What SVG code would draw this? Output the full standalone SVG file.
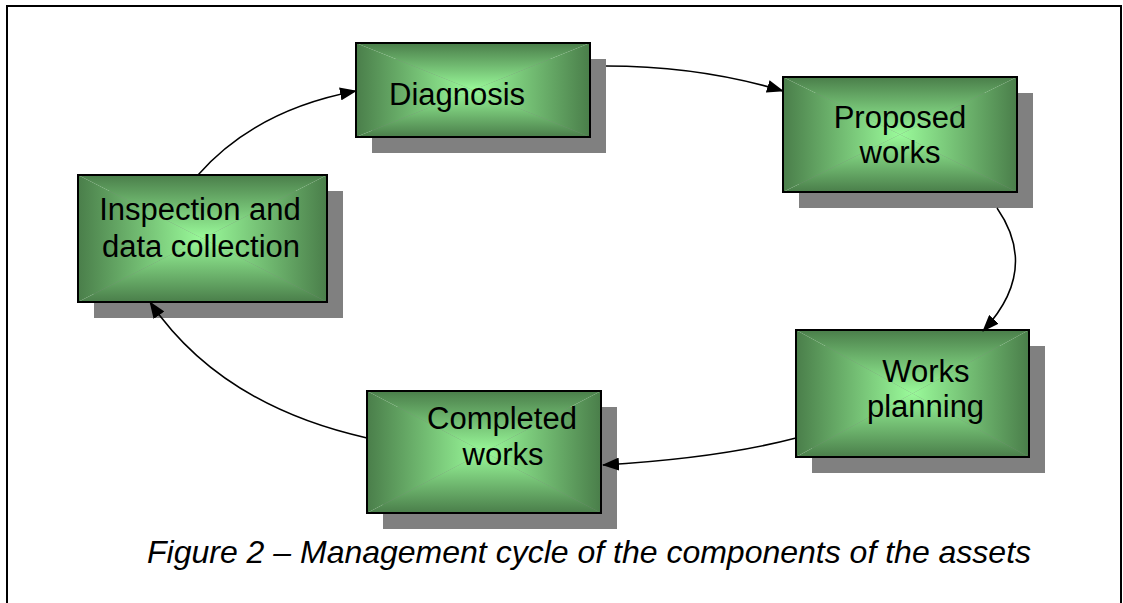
<svg xmlns="http://www.w3.org/2000/svg" width="1123" height="603" viewBox="0 0 1123 603">
<style>
.frame{fill:none;stroke:#000;stroke-width:2}
.shadow{fill:#808080}
.edge{fill:none;stroke:#000;stroke-width:1.5}
.border{fill:none;stroke:#000;stroke-width:2}
.lbl{font-family:"Liberation Sans",Arial,sans-serif;font-size:31px;fill:#000}
.cap{font-family:"Liberation Sans",Arial,sans-serif;font-size:32px;font-style:italic;fill:#000}
.t{fill:url(#gT)}.b{fill:url(#gB)}.l{fill:url(#gL)}.r{fill:url(#gR)}
</style>
<defs>
<linearGradient id="gT" x1="0" y1="0" x2="0" y2="1"><stop offset="0" stop-color="#4a7e4a"/><stop offset="1" stop-color="#9afa9a"/></linearGradient>
<linearGradient id="gB" x1="0" y1="1" x2="0" y2="0"><stop offset="0" stop-color="#4a7e4a"/><stop offset="1" stop-color="#9afa9a"/></linearGradient>
<linearGradient id="gL" x1="0" y1="0" x2="1" y2="0"><stop offset="0" stop-color="#4a7e4a"/><stop offset="1" stop-color="#9afa9a"/></linearGradient>
<linearGradient id="gR" x1="1" y1="0" x2="0" y2="0"><stop offset="0" stop-color="#4a7e4a"/><stop offset="1" stop-color="#9afa9a"/></linearGradient>
<marker id="arr" markerUnits="userSpaceOnUse" markerWidth="17" markerHeight="13" refX="16" refY="6.5" orient="auto">
<path d="M0,0 L17,6.5 L0,13 Z" fill="#000"/>
</marker>
</defs>
<path class="frame" d="M7,603 V6 H1121 V603"/>

<g id="diagnosis">
<rect class="shadow" x="372" y="59" width="234" height="94"/>
<polygon class="t" points="356,43 590,43 473,90"/>
<polygon class="b" points="356,137 590,137 473,90"/>
<polygon class="l" points="356,43 356,137 473,90"/>
<polygon class="r" points="590,43 590,137 473,90"/>
<rect class="border" x="356" y="43" width="234" height="94"/>
<text class="lbl" x="389" y="105">Diagnosis</text>
</g>

<g id="proposed">
<rect class="shadow" x="799" y="93" width="234" height="115"/>
<polygon class="t" points="783,77 1017,77 900,134.5"/>
<polygon class="b" points="783,192 1017,192 900,134.5"/>
<polygon class="l" points="783,77 783,192 900,134.5"/>
<polygon class="r" points="1017,77 1017,192 900,134.5"/>
<rect class="border" x="783" y="77" width="234" height="115"/>
<text class="lbl" text-anchor="middle" x="900" y="128">Proposed</text>
<text class="lbl" text-anchor="middle" x="900" y="163">works</text>
</g>

<g id="inspection">
<rect class="shadow" x="94" y="191" width="249" height="127"/>
<polygon class="t" points="78,175 327,175 202.5,238.5"/>
<polygon class="b" points="78,302 327,302 202.5,238.5"/>
<polygon class="l" points="78,175 78,302 202.5,238.5"/>
<polygon class="r" points="327,175 327,302 202.5,238.5"/>
<rect class="border" x="78" y="175" width="249" height="127"/>
<text class="lbl" text-anchor="middle" x="200" y="220">Inspection and</text>
<text class="lbl" text-anchor="middle" x="201" y="257">data collection</text>
</g>

<g id="planning">
<rect class="shadow" x="812" y="346" width="233" height="127"/>
<polygon class="t" points="796,330 1029,330 912.5,393.5"/>
<polygon class="b" points="796,457 1029,457 912.5,393.5"/>
<polygon class="l" points="796,330 796,457 912.5,393.5"/>
<polygon class="r" points="1029,330 1029,457 912.5,393.5"/>
<rect class="border" x="796" y="330" width="233" height="127"/>
<text class="lbl" text-anchor="middle" x="926" y="382">Works</text>
<text class="lbl" text-anchor="middle" x="925.5" y="417">planning</text>
</g>

<g id="completed">
<rect class="shadow" x="383" y="407" width="234" height="122"/>
<polygon class="t" points="367,391 601,391 484,452"/>
<polygon class="b" points="367,513 601,513 484,452"/>
<polygon class="l" points="367,391 367,513 484,452"/>
<polygon class="r" points="601,391 601,513 484,452"/>
<rect class="border" x="367" y="391" width="234" height="122"/>
<text class="lbl" text-anchor="middle" x="502" y="429">Completed</text>
<text class="lbl" text-anchor="middle" x="503" y="465">works</text>
</g>

<g id="connectors">
<path class="edge" d="M198,175 Q255,110 356,91" marker-end="url(#arr)"/>
<path class="edge" d="M606,66 Q700,66 783,91" marker-end="url(#arr)"/>
<path class="edge" d="M997,208 Q1040,270 983,331" marker-end="url(#arr)"/>
<path class="edge" d="M796,438 Q720,458 603,465" marker-end="url(#arr)"/>
<path class="edge" d="M367,438 Q220,405 150,302" marker-end="url(#arr)"/>
</g>

<text class="cap" x="147" y="563">Figure 2 – Management cycle of the components of the assets</text>
</svg>
